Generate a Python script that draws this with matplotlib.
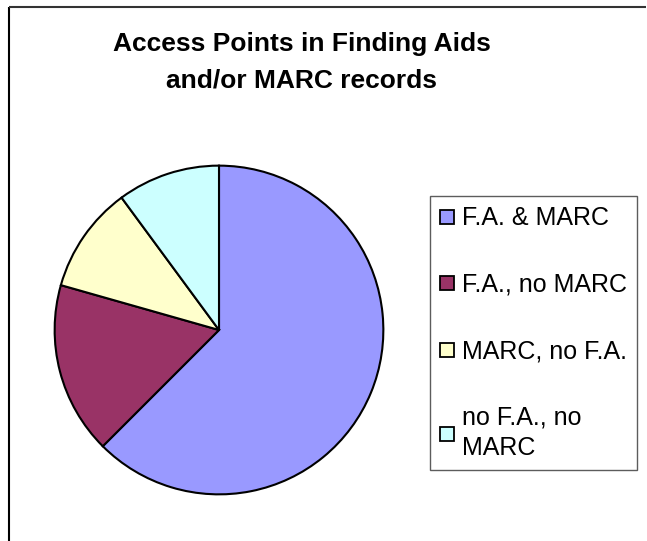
import matplotlib.pyplot as plt
from matplotlib.lines import Line2D

# Share of access points
categories = ['F.A. & MARC', 'F.A., no MARC', 'MARC, no F.A.', 'no F.A., no MARC']
legend_labels = ['F.A. & MARC', 'F.A., no MARC', 'MARC, no F.A.', 'no F.A., no\nMARC']
values = [62.5, 16.9, 10.5, 10.1]
colors = ['#9999FF', '#993366', '#FFFFCC', '#CCFFFF']

plt.rcParams['font.family'] = ['Liberation Sans', 'DejaVu Sans']

fig = plt.figure(figsize=(6.47, 5.41), dpi=100)

# pie axes, placed so the circle sits where the original one is
ax = fig.add_axes([53 / 647, 1 - 496 / 541, 332 / 647, 332 / 541])
ax.pie(values, colors=colors, startangle=90, counterclock=False,
       radius=1.0, wedgeprops=dict(edgecolor='black', linewidth=1.5))
ax.set_xlim(-1.01, 1.01)
ax.set_ylim(-1.01, 1.01)
ax.axis('off')

# title
fig.text(302 / 647, 1 - 62 / 541, 'Access Points in Finding Aids\nand/or MARC records',
         ha='center', va='center', fontsize=19, fontweight='bold', linespacing=1.65)

# legend
handles = [Line2D([0], [0], marker='s', linestyle='none', markersize=10.5,
                  markerfacecolor=c, markeredgecolor='black', markeredgewidth=1.3)
           for c in colors]
leg = fig.legend(handles, legend_labels, loc='upper left',
                 bbox_to_anchor=(430 / 647, 1 - 196 / 541),
                 fontsize=18, frameon=True, fancybox=False, shadow=False,
                 handlelength=0.55, handletextpad=0.3, labelspacing=1.7,
                 borderpad=0.42, borderaxespad=0)
for t in leg.get_texts():
    t.set_linespacing(1.3)
leg.get_frame().set_edgecolor('#333333')
leg.get_frame().set_linewidth(1.0)

# outer chart border (only top and left visible in the original)
fig.add_artist(Line2D([8.5 / 647, 8.5 / 647], [0, 1 - 6.5 / 541],
                      transform=fig.transFigure, color='black', linewidth=1.5,
                      solid_capstyle='butt'))
fig.add_artist(Line2D([8.5 / 647, 0.999], [1 - 6.5 / 541, 1 - 6.5 / 541],
                      transform=fig.transFigure, color='#333333', linewidth=1.5,
                      solid_capstyle='butt'))

fig.savefig('out.png', dpi=100)
